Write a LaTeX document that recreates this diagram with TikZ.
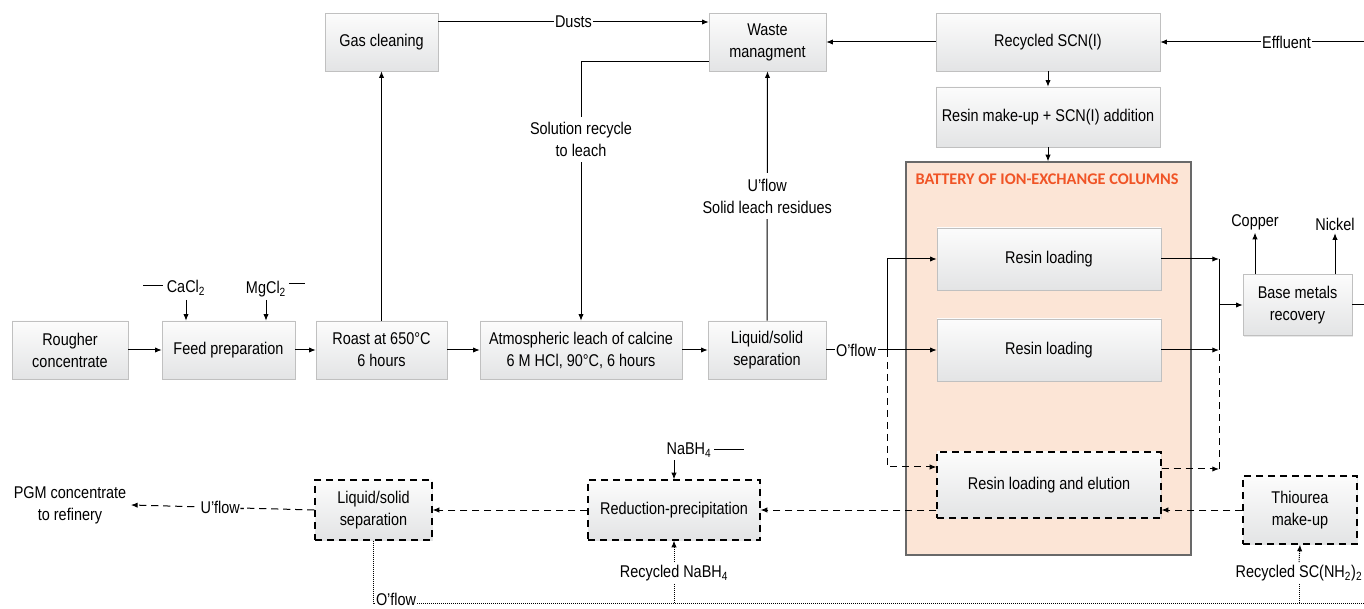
\documentclass[tikz,border=0pt]{standalone}
\usepackage{fontspec}
\setmainfont{Liberation Sans}[FakeStretch=0.85]
\newfontfamily\headfont{Carlito}
\usetikzlibrary{arrows.meta,shadows}

\definecolor{boxline}{RGB}{192,192,192}
\definecolor{boxtop}{RGB}{252,252,252}
\definecolor{boxbottom}{RGB}{227,228,229}
\definecolor{ixfill}{RGB}{252,229,214}
\definecolor{ixline}{RGB}{105,105,105}
\definecolor{ixhead}{RGB}{240,84,38}

\tikzset{
  txt/.style={font=\fontsize{12.75}{16.5}\selectfont, align=center},
  unit/.style={txt, rectangle, draw=boxline, top color=boxtop, bottom color=boxbottom,
    inner sep=0pt, drop shadow={opacity=0.18, shadow xshift=1pt, shadow yshift=-1pt}},
  pgmunit/.style={unit, draw=black, line width=0.9pt, dash pattern=on 5.5pt off 3.5pt},
  flow/.style={-{Latex[length=5pt,width=4pt]}, line width=0.75pt},
  pgmflow/.style={flow, dash pattern=on 5.5pt off 3.5pt},
  recycle/.style={line width=0.75pt, dash pattern=on 0.75pt off 0.75pt},
  lbl/.style={txt, fill=white, inner sep=1pt},
}

\begin{document}
\begin{tikzpicture}[x=0.75pt, y=-0.75pt]
    \useasboundingbox (0,0) rectangle (1364,609);
    \clip (0,14) rectangle (1364,609);

    % Top row: off-gas, waste and thiocyanate recycle
    \node[unit, minimum width=84.75pt, minimum height=43.5pt] (gas) at (381.5,42) {Gas cleaning};
    \node[unit, minimum width=87.75pt, minimum height=43.5pt] (waste) at (767.5,42) {Waste\\managment};
    \node[unit, minimum width=168pt, minimum height=43.5pt] (scn) at (1048,42) {Recycled SCN(I)};
    \node[unit, minimum width=168pt, minimum height=45pt] (makeup) at (1048,117) {Resin make-up + SCN(I) addition};
    \coordinate (effin) at (1364,42);

    % Ion-exchange battery
    \node[draw=ixline, fill=ixfill, line width=0.9pt, minimum width=213.75pt, minimum height=294.75pt] (battery) at (1048.5,358.5) {};
    \node[text=ixhead, font=\headfont\bfseries\fontsize{12.2}{14}\selectfont] (ixtitle) at (1047,179) {BATTERY OF ION-EXCHANGE COLUMNS};
    \node[unit, minimum width=168pt, minimum height=46.5pt] (load1) at (1049,259) {Resin loading};
    \node[unit, minimum width=168pt, minimum height=46.5pt] (load2) at (1049,350) {Resin loading};
    \node[pgmunit, minimum width=168pt, minimum height=49.5pt] (elute) at (1049,485) {Resin loading and elution};

    % Base metals
    \node[unit, minimum width=81.75pt, minimum height=45.75pt] (base) at (1297.5,305) {Base metals\\recovery};
    \node[txt, inner sep=2pt] (copper) at (1255,222) {Copper};
    \node[txt, inner sep=2pt] (nickel) at (1335,224) {Nickel};
    \coordinate (baseout) at (1364,305);

    % Main process line
    \node[unit, minimum width=87pt, minimum height=43.5pt] (rough) at (70,350) {Rougher\\concentrate};
    \node[unit, minimum width=99.75pt, minimum height=43.5pt] (feed) at (228.5,350) {Feed preparation};
    \node[unit, minimum width=98.25pt, minimum height=43.5pt] (roast) at (381.5,350) {Roast at 650°C\\6 hours};
    \node[unit, minimum width=151.5pt, minimum height=43.5pt] (leach) at (581,350) {Atmospheric leach of calcine\\6 M HCl, 90°C, 6 hours};
    \node[unit, minimum width=88.5pt, minimum height=43.5pt] (sep) at (767,350) {Liquid/solid\\separation};
    \node[txt, inner sep=3pt] (cacl) at (186,288) {CaCl\textsubscript{2}};
    \node[txt, inner sep=2pt] (mgcl) at (266,289) {MgCl\textsubscript{2}};

    % PGM line
    \node[txt] (pgm) at (70,505) {PGM concentrate\\to refinery};
    \node[pgmunit, minimum width=87.75pt, minimum height=45pt] (sep2) at (373.5,510) {Liquid/solid\\separation};
    \node[pgmunit, minimum width=129pt, minimum height=45pt] (reduce) at (674,510) {Reduction-precipitation};
    \node[pgmunit, minimum width=85.5pt, minimum height=51pt] (thio) at (1300,510) {Thiourea\\make-up};
    \node[txt, inner sep=2pt] (nabh) at (689,450) {NaBH\textsubscript{4}};
    \node[lbl, inner sep=2pt] (rnabh) at (674,573) {Recycled NaBH\textsubscript{4}};
    \node[lbl, inner sep=2pt] (rthio) at (1299,573) {Recycled SC(NH\textsubscript{2})\textsubscript{2}};
    \coordinate (oflend) at (1364,603);

    % Main line connectors
    \draw[flow] (rough) -- (feed);
    \draw[flow] (feed) -- (roast);
    \draw[flow] (roast) -- (leach);
    \draw[flow] (leach) -- (sep);
    \draw[flow] (roast.north) -- (gas.south);
    \draw[line width=0.75pt] ([yshift=2pt]cacl.west) -- ++(-20,0);
    \draw[flow] (cacl.south) -- (cacl.south |- feed.north);
    \draw[line width=0.75pt] ([yshift=4pt]mgcl.east) -- ++(16,0);
    \draw[flow] (mgcl.south) -- (mgcl.south |- feed.north);

    % Waste and recycle connectors
    \draw[flow] ([yshift=15pt]gas.east) -- node[lbl] {Dusts} ([yshift=15pt]waste.west);
    \draw[flow] (scn) -- (waste);
    \draw[flow] (effin) -- node[lbl, pos=0.38] {Effluent} (scn);
    \draw[flow] ([yshift=-15pt]waste.west) -| node[lbl, inner sep=4pt, pos=0.65] {Solution recycle\\to leach} (leach.north);
    \draw[flow] (sep.north) -- node[lbl, inner sep=4pt, pos=0.5] {U’flow\\Solid leach residues} (waste.south);
    \draw[flow] (scn) -- (makeup);
    \draw[flow] (makeup) -- (battery.north -| makeup);

    % Feed to the columns
    \coordinate (split) at (887,350);
    \coordinate (join) at (1219,305);
    \draw[flow] (sep.east) -- node[lbl, pos=0.27] {O’flow} (load2.west);
    \draw[flow] (split) |- (load1.west);
    \draw[pgmflow] (split) |- ([yshift=13.5pt]elute.west);
    \draw[flow] (load1.east) -- (load1.east -| join);
    \draw[flow] (load2.east) -- (load2.east -| join);
    \draw[line width=0.75pt] (load1.east -| join) -- (load2.east -| join);
    \draw[pgmflow] ([yshift=12pt]elute.east) -- ([yshift=12pt]elute.east -| join);
    \draw[line width=0.75pt, dash pattern=on 5.5pt off 3.5pt] ([yshift=12pt]elute.east -| join) -- (load2.east -| join);
    \draw[flow] (join) -- (base.west);
    \draw[flow] (base.north -| copper) -- (copper.south);
    \draw[flow] (base.north -| nickel) -- (nickel.south);
    \draw[line width=0.75pt] (base.east) -- (baseout);

    % PGM line connectors
    \draw[pgmflow] (thio.west) -- (thio.west -| elute.east);
    \draw[pgmflow] (elute.west |- reduce.east) -- (reduce.east);
    \draw[pgmflow] (reduce.west) -- (sep2.east);
    \draw[pgmflow] (sep2.west) -- node[lbl] {U’flow-} (pgm.east);
    \draw[line width=0.75pt] (nabh.east) -- ++(30,0);
    \draw[flow] (reduce.north |- nabh.south) -- (reduce.north);
    \draw[recycle] (sep2.south) |- node[lbl, pos=0.5, anchor=west, xshift=1pt, yshift=3pt, inner sep=0.5pt] {O’flow} (oflend);
    \draw[recycle] (rnabh.south) -- (rnabh.south |- oflend);
    \draw[flow, recycle] (rnabh.north) -- (reduce.south);
    \draw[recycle] (rthio.south) -- (rthio.south |- oflend);
    \draw[flow, recycle] (rthio.north) -- (thio.south);
\end{tikzpicture}
\end{document}
